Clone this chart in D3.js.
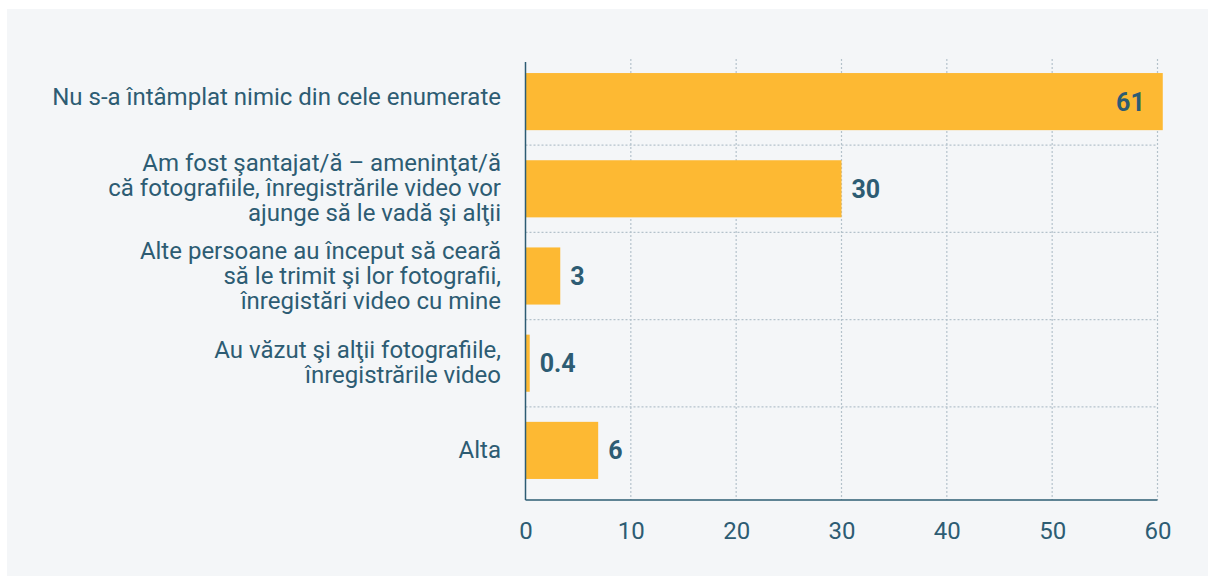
<!DOCTYPE html>
<html>
<head>
<meta charset="utf-8">
<script src="https://cdn.jsdelivr.net/npm/d3@7"></script>
<style>
  html, body { margin: 0; padding: 0; background: #fff; }
  svg { display: block; font-family: Roboto, 'Noto Sans', sans-serif; }
</style>
</head>
<body>
<svg width="1208" height="576"></svg>
<script>
const categories = [
  ['Nu s-a întâmplat nimic din cele enumerate'],
  ['Am fost şantajat/ă – ameninţat/ă', 'că fotografiile, înregistrările video vor', 'ajunge să le vadă şi alţii'],
  ['Alte persoane au început să ceară', 'să le trimit şi lor fotografii,', 'înregistări video cu mine'],
  ['Au văzut şi alţii fotografiile,', 'înregistrările video'],
  ['Alta']
];
const values = [60.5, 30, 3.3, 0.4, 6.9];
const valueLabels = ['61', '30', '3', '0.4', '6'];
const xTicks = [0, 10, 20, 30, 40, 50, 60];

const textColor = '#2d5c73',
      barColor = '#fdb933',
      gridColor = '#b4c2cb';

const svg = d3.select('svg');

svg
  .append('rect')
  .attr('x', 7)
  .attr('y', 9)
  .attr('width', 1201)
  .attr('height', 567)
  .attr('fill', '#f4f6f8');

const x = d3.scaleLinear().domain([0, 60]).range([525.5, 1157.5]);

const y = d3
  .scaleBand()
  .domain(d3.range(categories.length))
  .range([58, 494])
  .paddingInner(0.345)
  .paddingOuter(0.1725);

// grid
const grid = svg.append('g').attr('class', 'grid');

grid
  .selectAll('line.v')
  .data(xTicks.slice(1))
  .enter()
  .append('line')
  .attr('class', 'v')
  .attr('x1', d => x(d))
  .attr('x2', d => x(d))
  .attr('y1', 59)
  .attr('y2', 500)
  .attr('stroke', gridColor)
  .attr('stroke-width', 1.2)
  .attr('stroke-dasharray', '2,2');

grid
  .selectAll('line.h')
  .data(d3.range(1, categories.length))
  .enter()
  .append('line')
  .attr('class', 'h')
  .attr('x1', x(0))
  .attr('x2', x(60))
  .attr('y1', d => y(d) - y.step() * y.paddingInner() / 2)
  .attr('y2', d => y(d) - y.step() * y.paddingInner() / 2)
  .attr('stroke', gridColor)
  .attr('stroke-width', 1.2)
  .attr('stroke-dasharray', '2,2');

// bars
svg
  .append('g')
  .selectAll('rect')
  .data(values)
  .enter()
  .append('rect')
  .attr('x', x(0))
  .attr('y', (d, i) => y(i))
  .attr('width', d => x(d) - x(0))
  .attr('height', y.bandwidth())
  .attr('fill', barColor);

// value labels
svg
  .append('g')
  .selectAll('text')
  .data(values)
  .enter()
  .append('text')
  .attr('x', d => d > 50 ? x(d) - 18 : x(d) + 10)
  .attr('y', (d, i) => y(i) + y.bandwidth() / 2)
  .attr('dy', '0.36em')
  .attr('text-anchor', d => d > 50 ? 'end' : 'start')
  .attr('font-size', 25)
  .attr('font-weight', 'bold')
  .attr('fill', textColor)
  .text((d, i) => valueLabels[i]);

// category labels
const lineHeight = 25;
svg
  .append('g')
  .selectAll('text')
  .data(categories)
  .enter()
  .append('text')
  .attr('text-anchor', 'end')
  .attr('font-size', 24)
  .attr('fill', textColor)
  .each(function (lines, i) {
    const cy = y(i) + y.bandwidth() / 2 - (i === 0 ? 4 : 0);
    const top = cy - (lines.length - 1) * lineHeight / 2;
    d3.select(this)
      .selectAll('tspan')
      .data(lines)
      .enter()
      .append('tspan')
      .attr('x', 501)
      .attr('y', (l, j) => top + j * lineHeight)
      .attr('dy', '0.32em')
      .text(l => l);
  });

// x axis
const xAxis = d3
  .axisBottom(x)
  .tickValues(xTicks)
  .tickSize(0)
  .tickPadding(22)
  .tickFormat(d3.format('d'));

const axisG = svg
  .append('g')
  .attr('transform', 'translate(0, 500)')
  .call(xAxis);

axisG.select('.domain').remove();
axisG
  .selectAll('text')
  .attr('font-size', 24)
  .attr('font-family', 'Roboto, sans-serif')
  .attr('fill', textColor);

svg
  .append('line')
  .attr('x1', x(0))
  .attr('x2', x(60))
  .attr('y1', 500)
  .attr('y2', 500)
  .attr('stroke', textColor)
  .attr('stroke-width', 1.5);

svg
  .append('line')
  .attr('x1', x(0))
  .attr('x2', x(0))
  .attr('y1', 62)
  .attr('y2', 500)
  .attr('stroke', textColor)
  .attr('stroke-width', 1.5);
</script>
</body>
</html>
